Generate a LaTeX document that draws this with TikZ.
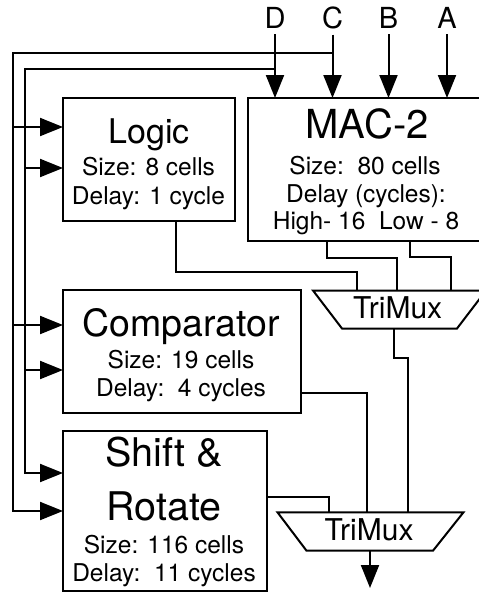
\documentclass[tikz,border=0pt]{standalone}
\usepackage{fontspec}
\setmainfont{TeX Gyre Heros}
\usetikzlibrary{arrows.meta,calc}
\newcommand\myfs[1]{\fontsize{#1}{#1}\selectfont}
\begin{document}
\begin{tikzpicture}[x=1pt,y=-1pt,
  wire/.style={line width=2pt},
  arr/.style={line width=2pt,-{Triangle[length=23pt,width=18pt]}},
  box/.style={draw,line width=2pt,rectangle,inner sep=0pt,outer sep=0pt},
  txt/.style={anchor=base,inner sep=0pt},
]
\useasboundingbox (0,0) rectangle (479,592);

% boxes
\node[box,minimum width=172pt,minimum height=123pt] (logic) at (149,159.5) {};
\node[box,minimum width=238pt,minimum height=143pt] (mac) at (367,169.5) {};
\node[box,minimum width=238pt,minimum height=123pt] (comp) at (182,351.5) {};
\node[box,minimum width=204pt,minimum height=160pt] (shift) at (165,511) {};

% texts
\node[txt,font=\myfs{34}] (logicT) at (149,143.7) {Logic};
\node[txt,font=\myfs{24.5}] (logicS) at (148.5,175) {Size: 8 cells};
\node[txt,font=\myfs{24.5}] (logicD) at (148.5,204) {Delay: 1 cycle};

\node[txt,font=\myfs{40}] (macT) at (367,138) {MAC-2};
\node[txt,font=\myfs{24.5}] (macS) at (365,174) {Size:\ \ 80 cells};
\node[txt,font=\myfs{24.5}] (macD) at (366,202.5) {Delay (cycles):};
\node[txt,font=\myfs{24.5}] (macH) at (366,229.3) {High- 16\ \ Low - 8};

\node[txt,font=\myfs{37.5}] (compT) at (181,336.7) {Comparator};
\node[txt,font=\myfs{24.5}] (compS) at (181,368) {Size: 19 cells};
\node[txt,font=\myfs{24.5}] (compD) at (181,396.7) {Delay:\ \ 4 cycles};

\node[txt,font=\myfs{39.5}] (shiftT) at (164,466.7) {Shift \&};
\node[txt,font=\myfs{39.5}] (shiftR) at (164,520) {Rotate};
\node[txt,font=\myfs{24.5}] (shiftS) at (164,553) {Size: 116 cells};
\node[txt,font=\myfs{24.5}] (shiftD) at (164,581.7) {Delay:\ \ 11 cycles};

% input letters
\node[txt,font=\myfs{29}] (lD) at (275,28) {D};
\node[txt,font=\myfs{29}] (lC) at (332.5,28) {C};
\node[txt,font=\myfs{29}] (lB) at (388.5,28) {B};
\node[txt,font=\myfs{29}] (lA) at (447,28) {A};

\draw[arr] ([yshift=-6pt]lD.south) -- (lD.south |- mac.north);
\draw[arr] ([yshift=-6pt]lC.south) -- (lC.south |- mac.north);
\draw[arr] ([yshift=-6pt]lB.south) -- (lB.south |- mac.north);
\draw[arr] ([yshift=-6pt]lA.south) -- (lA.south |- mac.north);

% feed wires
\coordinate (w1) at (13,53);
\coordinate (w2) at (25,69);
\coordinate (r1) at (0,127);
\coordinate (r2) at (0,168);
\coordinate (r3) at (0,325);
\coordinate (r4) at (0,370);
\coordinate (r5) at (0,473);

\draw[arr] (w1 -| lC) -- (w1) |- (shift.west);
\draw[arr] (w2 -| lD) -- (w2) |- (shift.west |- r5);
\draw[arr] (w1 |- r1) -- (logic.west |- r1);
\draw[arr] (w2 |- r2) -- (logic.west |- r2);
\draw[arr] (w1 |- r3) -- (comp.west |- r3);
\draw[arr] (w2 |- r4) -- (comp.west |- r4);

% muxes
\draw[wire] (313,290.5) -- (486,290.5) -- (457,328.5) -- (342,328.5) -- cycle;
\node[txt,font=\myfs{30}] (mux1) at (397.7,318.3) {TriMux};
\draw[wire] (277.5,512.3) -- (463.5,512.3) -- (433,550.7) -- (306.5,550.7) -- cycle;
\node[txt,font=\myfs{30}] (mux2) at (369,540) {TriMux};

\coordinate (m1i1) at (357,290.5);
\coordinate (m1i2) at (397,290.5);
\coordinate (m1i3) at (451,290.5);
\coordinate (m1o) at (393.5,328.5);
\coordinate (m2i1) at (328.5,512.3);
\coordinate (m2i2) at (367,512.3);
\coordinate (m2i3) at (407.5,512.3);
\coordinate (m2o) at (370,550.7);
\coordinate (out) at (370,588);

\coordinate (j1) at (176,271.5);
\coordinate (j2) at (327,257.5);
\coordinate (j3) at (410,257);
\coordinate (j5) at (407.5,358);
\coordinate (j6) at (367,392.5);
\coordinate (j7) at (328.5,496.5);

\draw[wire] (logic.south -| j1) -- (j1) -| (m1i1);
\draw[wire] (mac.south -| j2) -- (j2) -| (m1i2);
\draw[wire] (mac.south -| j3) -- (j3) -| (m1i3);
\draw[wire] (m1o) |- (j5) -- (m2i3);
\draw[wire] (comp.east |- j6) -- (j6) -- (m2i2);
\draw[wire] (shift.east |- j7) -- (j7) -- (m2i1);
\draw[arr] (m2o) -- (out);
\end{tikzpicture}
\end{document}
